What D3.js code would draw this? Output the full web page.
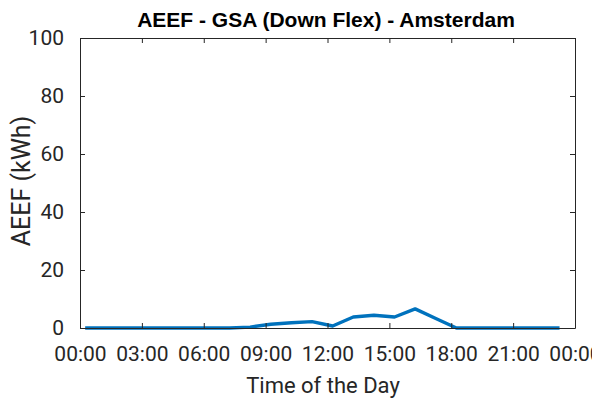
<!DOCTYPE html>
<html><head><meta charset="utf-8">
<script src="https://cdn.jsdelivr.net/npm/d3@7"></script>
<style>body{margin:0;background:#fff}svg{display:block}text{font-family:Roboto,"Liberation Sans",sans-serif;fill:#262626}</style>
</head><body><svg id="c" width="592" height="401"></svg>
<script>
const hours = [0.25,1.25,2.25,3.25,4.25,5.25,6.25,7.25,8.25,9.25,10.25,11.25,12.25,13.25,14.25,15.25,16.25,17.25,18.25,19.25,20.25,21.25,22.25,23.25];
const values = [0,0,0,0,0,0,0,0,0.3,1.3,1.8,2.2,0.7,3.8,4.4,3.8,6.6,3.3,0,0,0,0,0,0];
const xTicks = [0,3,6,9,12,15,18,21,24];
const xTickLabels = ["00:00","03:00","06:00","09:00","12:00","15:00","18:00","21:00","00:00"];
const yTicks = [0,20,40,60,80,100];
const title = "AEEF - GSA (Down Flex) - Amsterdam";
const xLabel = "Time of the Day";
const yLabel = "AEEF (kWh)";

const L=80,R=575,T=38,B=328;
const svg=d3.select("#c");
const x=d3.scaleLinear().domain([0,24]).range([L,R]);
const y=d3.scaleLinear().domain([0,100]).range([B,T]);
const ax="#262626";
const tl=5;

// line
svg.append("path").datum(hours.map((h,i)=>[h,values[i]]))
 .attr("d",d3.line().x(d=>x(d[0])).y(d=>y(d[1])))
 .attr("fill","none").attr("stroke","#0072BD").attr("stroke-width",3.4).attr("stroke-linejoin","round");

// axes
const fmt=(d,i)=>xTickLabels[i];
const gb=svg.append("g").attr("transform",`translate(0,${B})`)
 .call(d3.axisBottom(x).tickValues(xTicks).tickFormat(fmt).tickSizeInner(-tl).tickSizeOuter(0).tickPadding(18));
const gt=svg.append("g").attr("transform",`translate(0,${T})`)
 .call(d3.axisTop(x).tickValues(xTicks).tickFormat("").tickSizeInner(-tl).tickSizeOuter(0));
const gl=svg.append("g").attr("transform",`translate(${L},0)`)
 .call(d3.axisLeft(y).tickValues(yTicks).tickSizeInner(-tl).tickSizeOuter(0).tickPadding(16));
const gr=svg.append("g").attr("transform",`translate(${R},0)`)
 .call(d3.axisRight(y).tickValues(yTicks).tickFormat("").tickSizeInner(-tl).tickSizeOuter(0));
[gb,gt,gl,gr].forEach(g=>{
 g.selectAll("path.domain").attr("stroke",ax).attr("stroke-width",1);
 g.selectAll(".tick line").attr("stroke",ax).attr("stroke-width",1);
 g.selectAll(".tick text").attr("font-size",21).attr("fill",ax).style("font-family","Roboto,'Liberation Sans',sans-serif");
});

svg.append("text").attr("x",326).attr("y",27).attr("text-anchor","middle")
 .style("font-family","'Liberation Sans',Arial,sans-serif")
 .attr("font-size",21).attr("font-weight","bold").attr("fill","#000").style("fill","#000").text(title);
svg.append("text").attr("x",323).attr("y",393).attr("text-anchor","middle")
 .attr("font-size",22).text(xLabel);
svg.append("text").attr("transform",`translate(30,181) rotate(-90)`).attr("text-anchor","middle")
 .attr("font-size",25).text(yLabel);
</script></body></html>
